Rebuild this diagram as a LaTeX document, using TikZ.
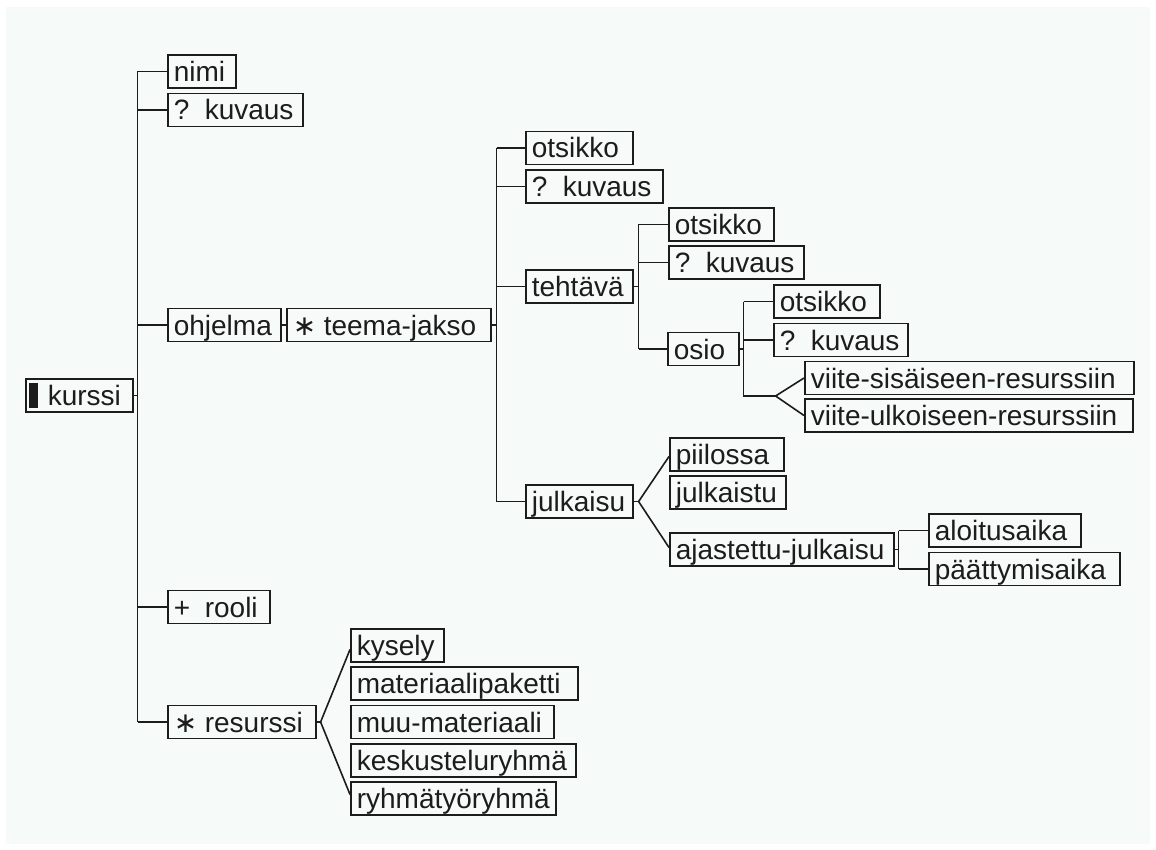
\documentclass[tikz,border=0pt]{standalone}
\usepackage{fontspec}
\setmainfont{Liberation Sans}
\newfontfamily\symfont{DejaVu Sans}
\usetikzlibrary{calc}
\hyphenpenalty=10000
\exhyphenpenalty=10000

\definecolor{paper}{HTML}{F6FAF8}
\definecolor{ink}{HTML}{1C1C1C}

% occurrence marker in front of an element name
\newcommand{\occ}[1]{\makebox[31pt][l]{#1}}
\newcommand{\many}{\occ{{\symfont\char"2217}}}

\begin{document}
\begin{tikzpicture}[x=1pt,y=-1pt,
  elem/.style={draw=ink, line width=1.6pt, anchor=west, inner xsep=6pt, inner ysep=0pt,
    minimum height=33pt, text height=22pt, text depth=2pt, align=left,
    font=\fontsize{28}{30}\selectfont, text=ink},
  wire/.style={draw=ink, line width=1.6pt},
  ]
\useasboundingbox (0,0) rectangle (1156,850);
\fill[white] (0,0) rectangle (1156,850);
\fill[paper] (6,7) rectangle (1150,844);

% root element
\node[elem, text width=95pt] (kurssi) at (25,395.5)
  {\hspace*{-3pt}\rule[-2.5pt]{9pt}{25pt}\hspace{10pt}kurssi};

% children of kurssi
\node[elem, text width=56pt]  (nimi)     at (167,71.5) {nimi};
\node[elem, text width=123pt] (kuvaus0)  at (167,110)  {\occ{?}kuvaus};
\node[elem, text width=101pt] (ohjelma)  at (167,325)  {ohjelma};
\node[elem, text width=90pt]  (rooli)    at (167,607)  {\occ{+}rooli};
\node[elem, text width=136pt] (resurssi) at (167,722)  {\many resurssi};

\node[elem, text width=192pt] (teema) at (286,325) {\many teema-jakso};

% children of teema-jakso
\node[elem, text width=95pt]  (otsikkoA) at (525,148)   {otsikko};
\node[elem, text width=125pt] (kuvausA)  at (525,186.5) {\occ{?}kuvaus};
\node[elem, text width=95pt]  (tehtava)  at (525,286.5) {tehtävä};
\node[elem, text width=95pt]  (julkaisu) at (525,501.5) {julkaisu};

% children of tehtävä
\node[elem, text width=93pt]  (otsikkoB) at (668,224.5) {otsikko};
\node[elem, text width=123pt] (kuvausB)  at (668,262.5) {\occ{?}kuvaus};
\node[elem, text width=59pt]  (osio)     at (667,349)   {osio};

% children of osio
\node[elem, text width=94pt]  (otsikkoC)  at (773,301.5) {otsikko};
\node[elem, text width=122pt] (kuvausC)   at (773,340)   {\occ{?}kuvaus};
\node[elem, text width=317pt] (sisaiseen) at (804,378)   {viite-sisäiseen-resurssiin};
\node[elem, text width=316pt] (ulkoiseen) at (804,415.5) {viite-ulkoiseen-resurssiin};

% children of julkaisu
\node[elem, text width=102pt] (piilossa)  at (669,454.5) {piilossa};
\node[elem, text width=104pt] (julkaistu) at (669,492.5) {julkaistu};
\node[elem, text width=212pt] (ajastettu) at (669,549.5) {ajastettu-julkaisu};

% children of ajastettu-julkaisu
\node[elem, text width=140pt] (alku)  at (928,530.5) {aloitusaika};
\node[elem, text width=179pt] (loppu) at (928,569)   {päättymisaika};

% children of resurssi
\node[elem, text width=81pt]  (kysely)   at (350,645.5) {kysely};
\node[elem, text width=215pt] (paketti)  at (350,683.5) {materiaalipaketti};
\node[elem, text width=191pt] (muu)      at (350,722)   {muu-materiaali};
\node[elem, text width=213pt] (keskust)  at (350,760.5) {keskusteluryhmä};
\node[elem, text width=193pt] (ryhma)    at (350,798.5) {ryhmätyöryhmä};

% sequence: kurssi
\coordinate (kS) at ($(kurssi.east)+(4,0)$);
\draw[wire] (kurssi.east) -- (kS);
\draw[wire] (kS |- nimi.west) -- (kS |- resurssi.west);
\foreach \n in {nimi,kuvaus0,ohjelma,rooli,resurssi}
  \draw[wire] (kS |- \n.west) -- (\n.west);

% ohjelma holds teema-jakso
\draw[wire] (ohjelma.east) -- (teema.west);

% sequence: teema-jakso
\coordinate (tS) at ($(teema.east)+(5,0)$);
\draw[wire] (teema.east) -- (tS);
\draw[wire] (tS |- otsikkoA.west) -- (tS |- julkaisu.west);
\foreach \n in {otsikkoA,kuvausA,tehtava,julkaisu}
  \draw[wire] (tS |- \n.west) -- (\n.west);

% sequence: tehtävä
\coordinate (hS) at ($(tehtava.east)+(5,0)$);
\draw[wire] (tehtava.east) -- (hS);
\draw[wire] (hS |- otsikkoB.west) -- (hS |- osio.west);
\foreach \n in {otsikkoB,kuvausB,osio}
  \draw[wire] (hS |- \n.west) -- (\n.west);

% sequence: osio, ending in a choice
\coordinate (oS) at ($(osio.east)+(4,0)$);
\coordinate (oEnd) at ($(oS)+(0,47)$);
\coordinate (oC) at ($(oEnd)+(32,0)$);
\draw[wire] (osio.east) -- (oS);
\draw[wire] (oS |- otsikkoC.west) -- (oEnd) -- (oC);
\foreach \n in {otsikkoC,kuvausC}
  \draw[wire] (oS |- \n.west) -- (\n.west);
\draw[wire] (oC) -- (sisaiseen.west);
\draw[wire] (oC) -- (ulkoiseen.west);

% choice: julkaisu
\coordinate (jC) at ($(julkaisu.east)+(5,0)$);
\draw[wire] (julkaisu.east) -- (jC);
\draw[wire] (jC) -- ($(piilossa.west)+(0,2)$);
\draw[wire] (jC) -- ($(ajastettu.west)+(0,-2)$);

% sequence: ajastettu-julkaisu
\coordinate (aS) at ($(ajastettu.east)+(4,0)$);
\draw[wire] (ajastettu.east) -- (aS);
\draw[wire] (aS |- alku.west) -- (aS |- loppu.west);
\foreach \n in {alku,loppu}
  \draw[wire] (aS |- \n.west) -- (\n.west);

% choice: resurssi
\coordinate (rC) at ($(resurssi.east)+(4,0)$);
\draw[wire] (resurssi.east) -- (rC);
\draw[wire] (rC) -- ($(kysely.west)+(0,4)$);
\draw[wire] (rC) -- ($(ryhma.west)+(0,-4)$);
\end{tikzpicture}
\end{document}
